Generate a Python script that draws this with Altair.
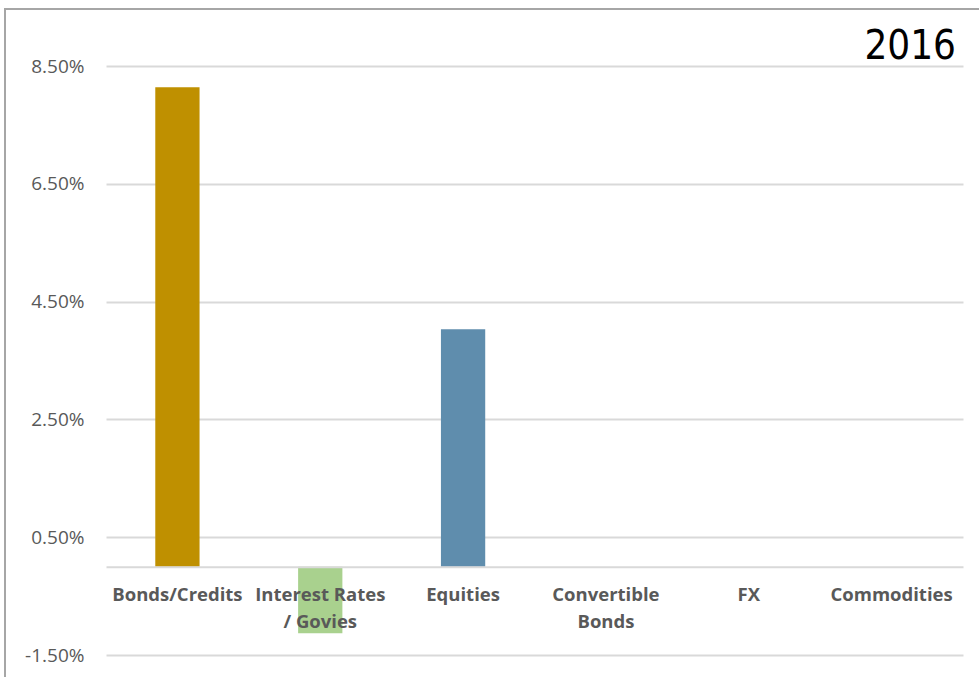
import altair as alt
import pandas as pd

categories = ["Bonds/Credits", "Interest Rates / Govies", "Equities",
              "Convertible Bonds", "FX", "Commodities"]
returns_pct = [8.14, -1.13, 4.03, 0.0, 0.0, 0.0]
bar_colors = ["#BF9000", "#A9D18E", "#5F8DAD", "#BF9000", "#BF9000", "#BF9000"]
y_ticks = [-1.5, 0.5, 2.5, 4.5, 6.5, 8.5]
year_label = "2016"

df = pd.DataFrame({"category": categories, "value": returns_pct, "color": bar_colors})

W, H = 857, 589
GRID = "#D9D9D9"
TXT = "#595959"

label_expr = ("datum.value == 'Interest Rates / Govies' ? ['Interest Rates', '/ Govies'] : "
              "datum.value == 'Convertible Bonds' ? ['Convertible', 'Bonds'] : datum.value")

zero_offset = -(H * 1.5 / 10.0)  # move x axis to the zero line

bars = alt.Chart(df).mark_bar().encode(
    x=alt.X("category:N", sort=categories, title=None,
            scale=alt.Scale(paddingInner=0.69, paddingOuter=0.345),
            axis=alt.Axis(labelExpr=label_expr, labelAngle=0, ticks=False,
                          domainColor=GRID, domainWidth=2, labelFont="Open Sans",
                          labelFontWeight="bold", labelFontSize=18.5, labelColor=TXT,
                          labelPadding=19, labelLineHeight=27, offset=zero_offset,
                          labelBaseline="top", zindex=1)),
    y=alt.Y("value:Q", title=None,
            scale=alt.Scale(domain=[-1.5, 8.5], nice=False, zero=False),
            axis=alt.Axis(values=y_ticks, ticks=False, domain=False,
                          labelExpr="datum.value < 0 ? '-' + format(-datum.value, '.2f') + '%' : format(datum.value, '.2f') + '%'",
                          labelFont="Open Sans", labelFontSize=19, labelColor=TXT,
                          labelPadding=22, gridColor=GRID, gridWidth=2)),
    y2=alt.datum(0),
    color=alt.Color("color:N", scale=None, legend=None),
)

frame = alt.Chart(pd.DataFrame({"a": [0]})).mark_rect(
    fill=None, stroke="#A6A6A6", strokeWidth=2
).encode(x=alt.value(-101), x2=alt.value(W + 30), y=alt.value(-57), y2=alt.value(H + 40))

title = alt.Chart(pd.DataFrame({"t": [year_label]})).mark_text(
    align="right", baseline="alphabetic", font="DejaVu Sans Condensed",
    fontSize=40, color="black"
).encode(text="t:N", x=alt.value(W - 7), y=alt.value(-7))

chart = alt.layer(frame, bars, title).properties(
    width=W, height=H,
    autosize=alt.AutoSizeParams(type="none"),
    padding={"left": 106, "top": 66, "right": 16, "bottom": 22},
    background="white",
).configure_view(stroke=None)

chart.save("out.html", embed_options={"renderer": "svg", "actions": False})
